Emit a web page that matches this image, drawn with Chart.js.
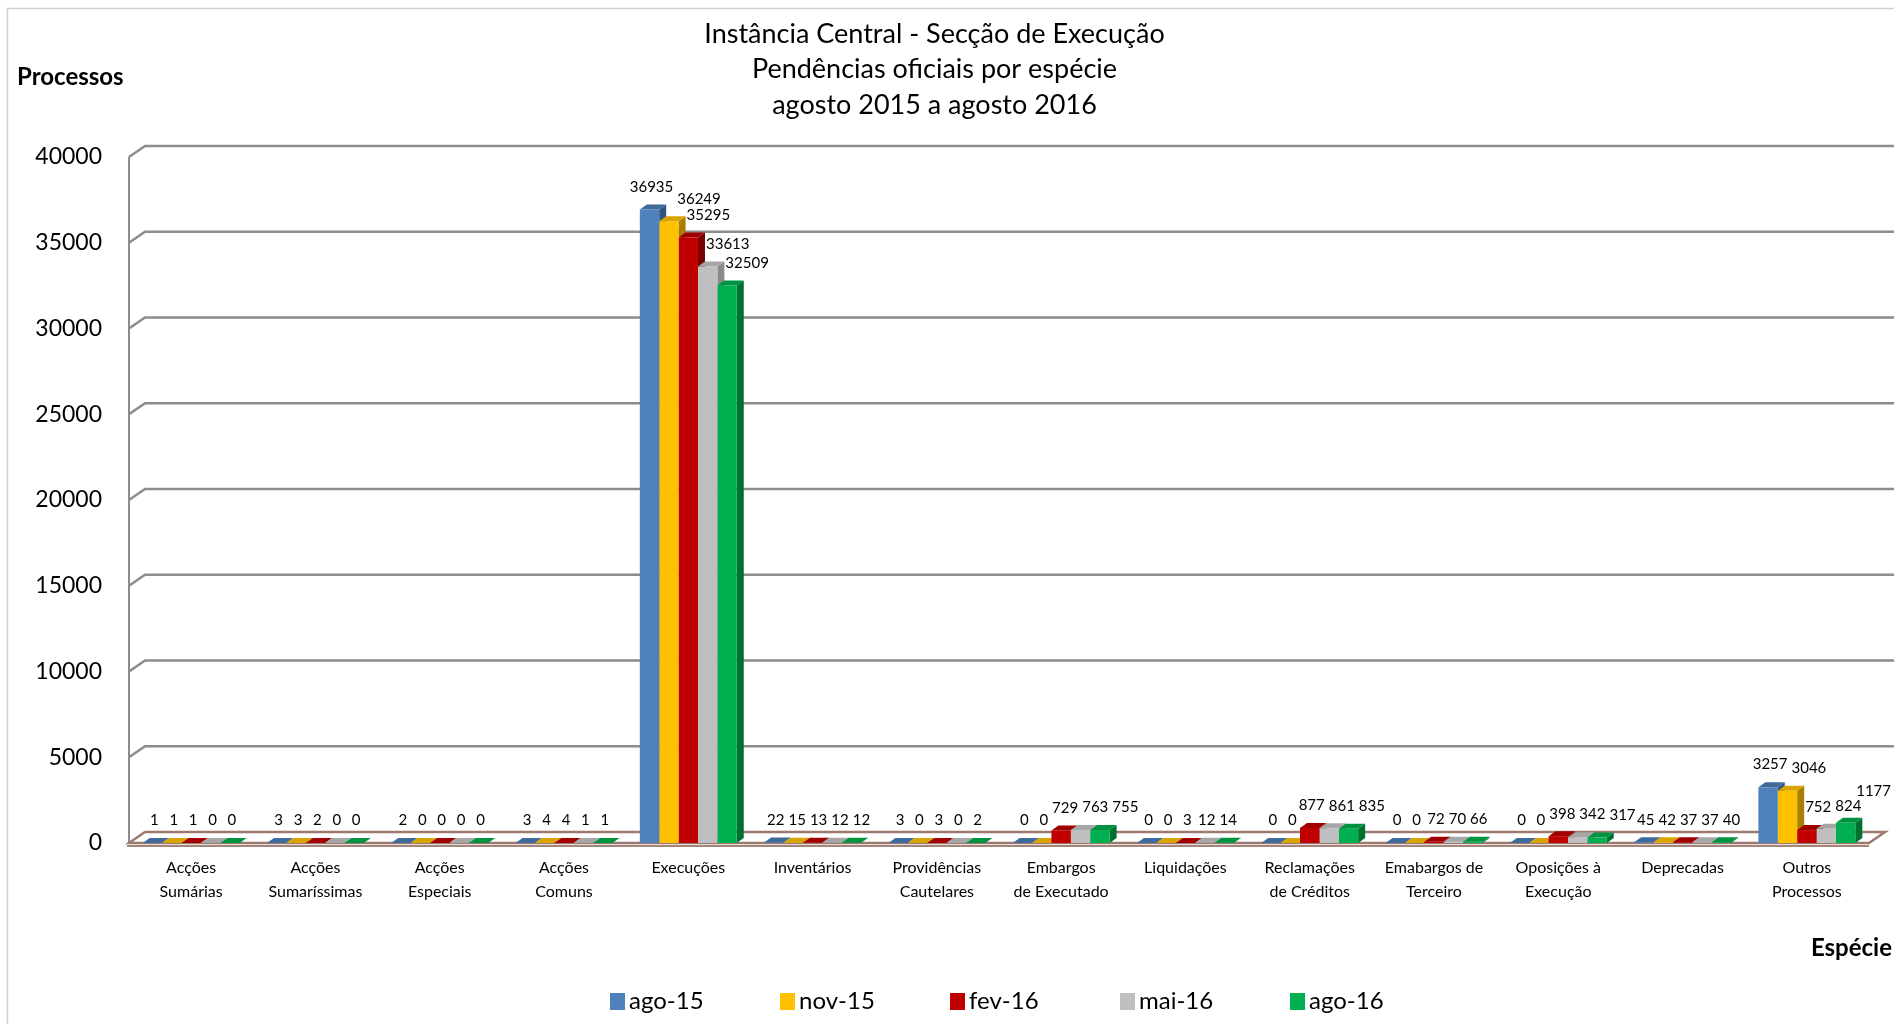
<!DOCTYPE html>
<html>
<head>
<meta charset="utf-8">
<title>Pendências oficiais por espécie</title>
<script src="https://cdn.jsdelivr.net/npm/chart.js@4.4.1/dist/chart.umd.min.js"></script>
<style>
  html, body { margin: 0; padding: 0; background: #fff; }
  #chart { width: 1894px; height: 1024px; }
</style>
</head>
<body>
<div id="chart"><canvas id="myChart" width="1894" height="1024"></canvas></div>
<script>
const titleLines = [ 'Instância Central - Secção de Execução', 'Pendências oficiais por espécie', 'agosto 2015 a agosto 2016' ]

const categories = [
  [ 'Acções', 'Sumárias' ],
  [ 'Acções', 'Sumaríssimas' ],
  [ 'Acções', 'Especiais' ],
  [ 'Acções', 'Comuns' ],
  'Execuções',
  'Inventários',
  [ 'Providências', 'Cautelares' ],
  [ 'Embargos', 'de Executado' ],
  'Liquidações',
  [ 'Reclamações', 'de Créditos' ],
  [ 'Emabargos de', 'Terceiro' ],
  [ 'Oposições à', 'Execução' ],
  'Deprecadas',
  [ 'Outros', 'Processos' ]
]

const seriesNames = [ 'ago-15', 'nov-15', 'fev-16', 'mai-16', 'ago-16' ]
const ago15 = [ 1, 3, 2, 3, 36935, 22, 3, 0, 0, 0, 0, 0, 45, 3257 ]
const nov15 = [ 1, 3, 0, 4, 36249, 15, 0, 0, 0, 0, 0, 0, 42, 3046 ]
const fev16 = [ 1, 2, 0, 4, 35295, 13, 3, 729, 3, 877, 72, 398, 37, 752 ]
const mai16 = [ 0, 0, 0, 1, 33613, 12, 0, 763, 12, 861, 70, 342, 37, 824 ]
const ago16 = [ 0, 0, 0, 1, 32509, 12, 2, 755, 14, 835, 66, 317, 40, 1177 ]

const yTicks = [ 0, 5000, 10000, 15000, 20000, 25000, 30000, 35000, 40000 ]

// cores de frente, topo e lado de cada serie
const frontColors = [ '#4F81BD', '#FFC000', '#C00000', '#BFBFBF', '#00B050' ]
const topColors = [ '#3E6A9C', '#D9A400', '#A00000', '#A6A6A6', '#00933F' ]
const sideColors = [ '#2F5481', '#A97F00', '#7A0000', '#8A8A8A', '#007030' ]

const fontFamily = 'Lato, "DejaVu Sans", sans-serif'
const depthX = 7
const depthY = 5
const wallX = 16
const wallY = 11

Chart.defaults.font.family = fontFamily
Chart.defaults.color = '#000'

// parede, grelha e chao em perspectiva
const backdrop = {
  id: 'backdrop',
  beforeDatasetsDraw( chart ) {
    const { ctx, chartArea, scales } = chart
    const y = scales.y
    const left = chartArea.left
    const right = chartArea.right
    const zero = y.getPixelForValue( 0 )

    ctx.save()
    ctx.strokeStyle = '#8c8c8c'
    ctx.lineWidth = 2.5
    yTicks.filter( ( v ) => v > 0 ).forEach( ( v ) => {
      const py = y.getPixelForValue( v )
      ctx.beginPath()
      ctx.moveTo( left, py )
      ctx.lineTo( left + wallX, py - wallY )
      ctx.lineTo( chart.width, py - wallY )
      ctx.stroke()
    } )

    // aresta da parede esquerda
    ctx.lineWidth = 2
    ctx.beginPath()
    ctx.moveTo( left, y.getPixelForValue( yTicks[yTicks.length - 1] ) )
    ctx.lineTo( left, zero )
    ctx.stroke()

    // chao
    ctx.beginPath()
    ctx.moveTo( left, zero )
    ctx.lineTo( left + wallX, zero - wallY )
    ctx.lineTo( right + wallX, zero - wallY )
    ctx.lineTo( right, zero )
    ctx.closePath()
    ctx.fillStyle = '#fff'
    ctx.fill()
    ctx.strokeStyle = '#9c7a72'
    ctx.lineWidth = 2.5
    ctx.stroke()
    ctx.strokeStyle = '#a3857a'
    ctx.lineWidth = 2
    ctx.beginPath()
    ctx.moveTo( left - 2, zero + 3 )
    ctx.lineTo( right, zero + 3 )
    ctx.stroke()

    // topo e lado das barras
    chart.data.datasets.forEach( ( ds, i ) => {
      chart.getDatasetMeta( i ).data.forEach( ( bar ) => {
        const { x, y: top, base, width } = bar.getProps( [ 'x', 'y', 'base', 'width' ], true )
        const l = x - width / 2
        const r = x + width / 2
        ctx.fillStyle = sideColors[i]
        ctx.beginPath()
        ctx.moveTo( r, top )
        ctx.lineTo( r + depthX, top - depthY )
        ctx.lineTo( r + depthX, base - depthY )
        ctx.lineTo( r, base )
        ctx.closePath()
        ctx.fill()
        ctx.fillStyle = topColors[i]
        ctx.beginPath()
        ctx.moveTo( l, top )
        ctx.lineTo( l + depthX, top - depthY )
        ctx.lineTo( r + depthX, top - depthY )
        ctx.lineTo( r, top )
        ctx.closePath()
        ctx.fill()
      } )
    } )
    ctx.restore()
  }
}

const hits = ( a, b ) => a.left < b.right && a.right > b.left && a.top < b.bottom && a.bottom > b.top

// valores por cima das barras, empurrados para a direita quando batem
// numa barra anterior ou num valor ja escrito
const valueLabels = {
  id: 'valueLabels',
  afterDatasetsDraw( chart ) {
    const { ctx } = chart
    const h = 14
    const gap = 3
    ctx.save()
    ctx.font = '15px ' + fontFamily
    ctx.fillStyle = '#000'
    ctx.textBaseline = 'bottom'
    ctx.textAlign = 'left'
    categories.forEach( ( c, j ) => {
      const obstacles = []
      chart.data.datasets.forEach( ( ds, i ) => {
        const bar = chart.getDatasetMeta( i ).data[j]
        const text = String( ds.data[j] )
        const w = ctx.measureText( text ).width
        const bottom = bar.y - depthY - 11
        const box = { left: bar.x + 2 - w / 2, right: bar.x + 2 + w / 2, top: bottom - h, bottom }
        let moved = true
        while ( moved ) {
          moved = false
          obstacles.forEach( ( o ) => {
            if ( hits( box, o ) ) {
              box.left = o.right + 1
              box.right = box.left + w
              moved = true
            }
          } )
        }
        if ( box.right > chart.width - 3 ) {
          box.right = chart.width - 3
          box.left = box.right - w
          obstacles.forEach( ( o ) => {
            if ( hits( box, o ) ) {
              box.bottom = o.top - 1
              box.top = box.bottom - h
            }
          } )
        }
        ctx.fillText( text, box.left, box.bottom + 1 )
        obstacles.push( { left: box.left - gap, right: box.right + gap, top: box.top, bottom: box.bottom } )
        obstacles.push( {
          left: bar.x - bar.width / 2,
          right: bar.x + bar.width / 2 + depthX,
          top: bar.y - depthY,
          bottom: bar.base
        } )
      } )
    } )
    ctx.restore()
  }
}

// moldura, titulos dos eixos e legenda
const extras = {
  id: 'extras',
  afterDraw( chart ) {
    const { ctx } = chart
    ctx.save()
    ctx.strokeStyle = '#d0d0d0'
    ctx.lineWidth = 1.5
    ctx.strokeRect( 7.5, 8.5, chart.width + 20, chart.height + 20 )

    ctx.fillStyle = '#000'
    ctx.textBaseline = 'middle'
    ctx.font = 'bold 24px ' + fontFamily
    ctx.textAlign = 'left'
    ctx.fillText( 'Processos', 17, 77 )
    ctx.textAlign = 'right'
    ctx.fillText( 'Espécie', 1892, 948 )

    ctx.font = '24px ' + fontFamily
    ctx.textAlign = 'left'
    const legendY = 1001
    chart.data.datasets.forEach( ( ds, i ) => {
      const x = 610 + i * 170
      ctx.fillStyle = frontColors[i]
      ctx.fillRect( x, legendY - 8, 15, 17 )
      ctx.fillStyle = '#000'
      ctx.fillText( ds.label, x + 19, legendY )
    } )
    ctx.restore()
  }
}

const seriesData = [ ago15, nov15, fev16, mai16, ago16 ]

const config = {
  type: 'bar',
  data: {
    labels: categories,
    datasets: seriesNames.map( ( name, i ) => ( {
      label: name,
      data: seriesData[i],
      backgroundColor: frontColors[i],
      borderWidth: 0,
      categoryPercentage: 0.78,
      barPercentage: 1
    } ) )
  },
  options: {
    responsive: false,
    animation: false,
    devicePixelRatio: 1,
    layout: { padding: { left: 0, right: 25, top: 0, bottom: 0 } },
    plugins: {
      legend: { display: false },
      tooltip: { enabled: false },
      title: {
        display: true,
        text: titleLines,
        color: '#000',
        font: { size: 27, weight: 'normal', lineHeight: 1.32 },
        padding: { top: 16, bottom: 34 }
      }
    },
    scales: {
      x: {
        grid: { display: false, drawTicks: false },
        border: { display: false },
        ticks: { autoSkip: false, maxRotation: 0, padding: 13, font: { size: 16, lineHeight: 1.5 } },
        afterFit: ( scale ) => { scale.height = 181 }
      },
      y: {
        min: yTicks[0],
        max: yTicks[yTicks.length - 1],
        grid: { display: false, drawTicks: false },
        border: { display: false },
        ticks: { padding: 27, font: { size: 23 }, callback: ( v ) => String( v ) },
        afterBuildTicks: ( scale ) => { scale.ticks = yTicks.map( ( v ) => ( { value: v } ) ) },
        afterFit: ( scale ) => { scale.width = 129 }
      }
    }
  },
  plugins: [ backdrop, valueLabels, extras ]
}

new Chart( document.getElementById( 'myChart' ), config )
</script>
</body>
</html>
